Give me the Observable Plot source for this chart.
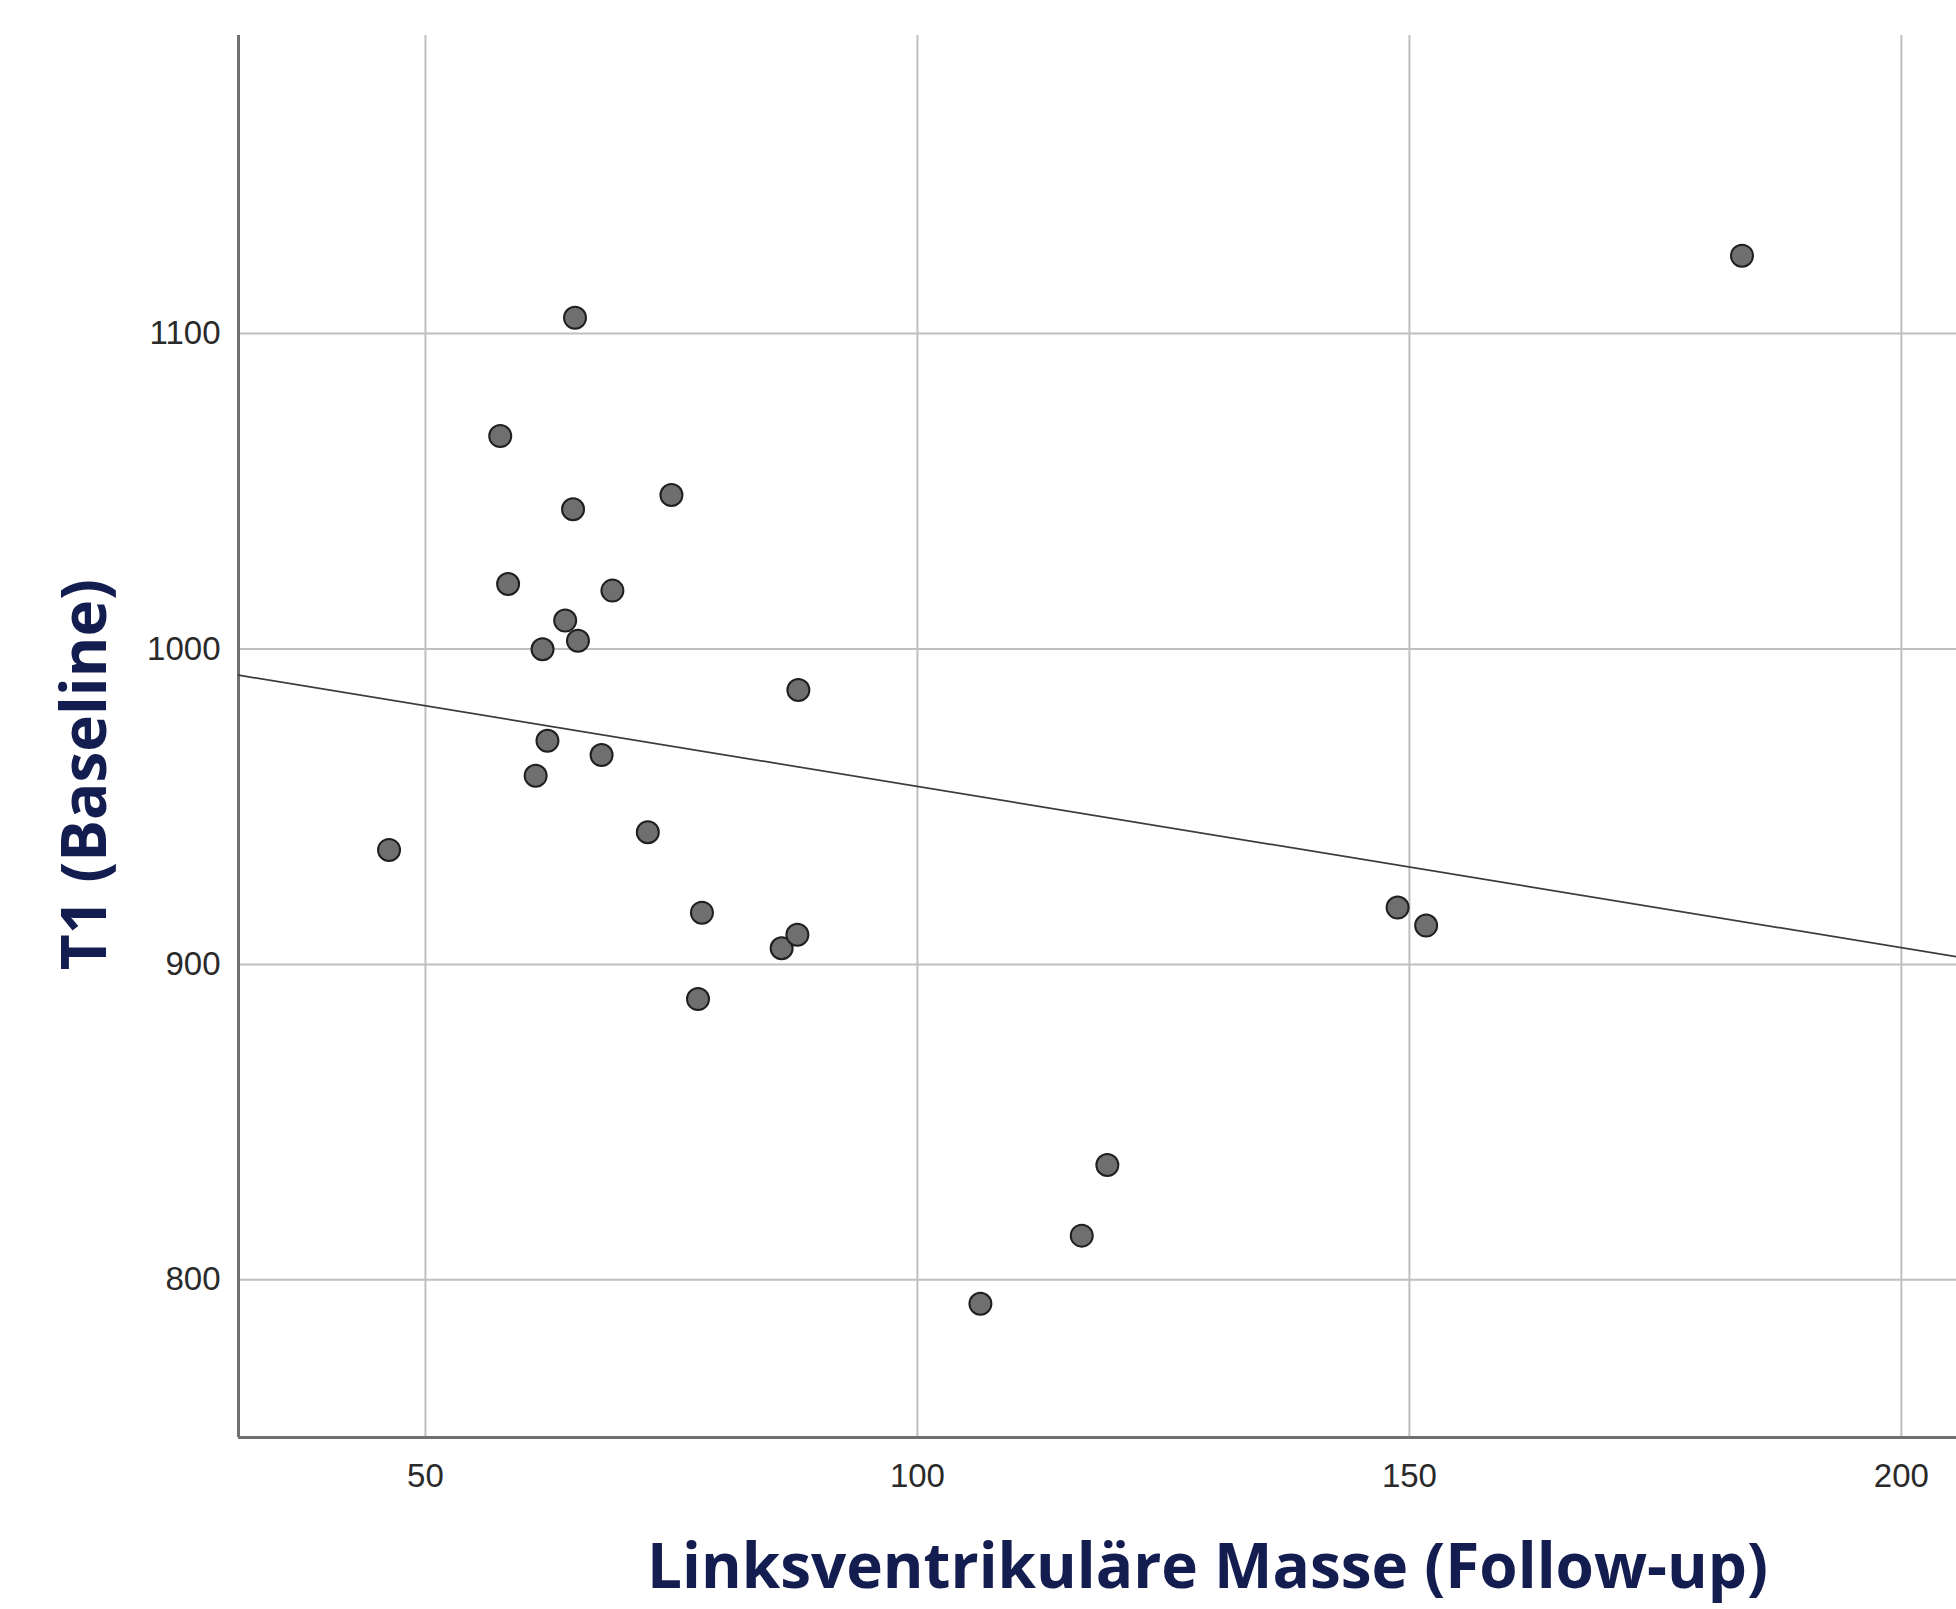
<!DOCTYPE html>
<html>
<head>
<meta charset="utf-8">
<script src="https://cdn.jsdelivr.net/npm/d3@7"></script>
<script src="https://cdn.jsdelivr.net/npm/@observablehq/plot@0.6"></script>
<style>
  html, body { margin: 0; padding: 0; background: #fff; overflow: hidden; }
  #chart svg { display: block; }
</style>
</head>
<body>
<div id="chart"></div>
<script>
// Data
const lvMass = [46.3, 57.6, 58.4, 61.2, 61.9, 62.4, 64.2, 65.0, 65.2, 65.5, 67.9, 69.0, 72.6, 75.0, 77.7, 78.1, 86.2, 87.8, 87.9, 106.4, 116.7, 119.3, 148.8, 151.7, 183.8];
const t1 = [936.3, 1067.5, 1020.6, 959.8, 999.9, 970.9, 1009.0, 1044.3, 1105.0, 1002.6, 966.4, 1018.5, 941.9, 1048.8, 889.0, 916.4, 905.1, 909.4, 987.0, 792.4, 814.0, 836.4, 918.0, 912.3, 1124.7];
const xTicks = [50, 100, 150, 200];
const yTicks = [800, 900, 1000, 1100];
const xDomain = [31, 205.6];
const yDomain = [750, 1194.5];
const xTitle = "Linksventrikuläre Masse (Follow-up)";
const yTitle = "T1 (Baseline)";

const data = lvMass.map((x, i) => ({x, y: t1[i]}));

// Ordinary least-squares fit line across the whole x range
const mx = d3.mean(lvMass), my = d3.mean(t1);
const sxy = d3.sum(data, d => (d.x - mx) * (d.y - my));
const sxx = d3.sum(data, d => (d.x - mx) ** 2);
const slope = sxy / sxx, intercept = my - slope * mx;
const fit = xDomain.map(x => ({x, y: intercept + slope * x}));

const titleFont = {fontFamily: "Open Sans", fontSize: 62, fontWeight: "bold", fill: "#141d4f"};
const fmt = d3.format("d");

const chart = Plot.plot({
  width: 1956,
  height: 1609,
  marginLeft: 238,
  marginRight: 0,
  marginTop: 35,
  marginBottom: 172,
  style: {fontFamily: "Liberation Sans, Arial, sans-serif", fontSize: "33px", color: "#222", background: "#fff"},
  x: {domain: xDomain, ticks: xTicks},
  y: {domain: yDomain, ticks: yTicks},
  marks: [
    Plot.gridX(xTicks, {stroke: "#bfbfbf", strokeOpacity: 1, strokeWidth: 2}),
    Plot.gridY(yTicks, {stroke: "#bfbfbf", strokeOpacity: 1, strokeWidth: 2}),
    Plot.axisX(xTicks, {tickSize: 0, tickPadding: 26, label: null, tickFormat: fmt, fontSize: 33, fill: "#2a2a2a"}),
    Plot.axisY(yTicks, {tickSize: 0, tickPadding: 18, label: null, tickFormat: fmt, fontSize: 33, fill: "#2a2a2a"}),
    Plot.ruleX([xDomain[0]], {stroke: "#707070", strokeWidth: 3}),
    Plot.ruleY([yDomain[0]], {stroke: "#707070", strokeWidth: 3}),
    Plot.line(fit, {x: "x", y: "y", stroke: "#3c3c3c", strokeWidth: 1.7}),
    Plot.dot(data, {x: "x", y: "y", r: 11, fill: "#6f6f6f", fillOpacity: 1, stroke: "#1f1f1f", strokeWidth: 2}),
    Plot.text([xTitle], {frameAnchor: "bottom", lineAnchor: "bottom", textAnchor: "middle", dx: 110, dy: 150, ...titleFont}),
    Plot.text([yTitle], {frameAnchor: "left", lineAnchor: "bottom", textAnchor: "middle", rotate: -90, dx: -133, dy: 38, ...titleFont})
  ]
});
document.getElementById("chart").append(chart);
</script>
</body>
</html>
